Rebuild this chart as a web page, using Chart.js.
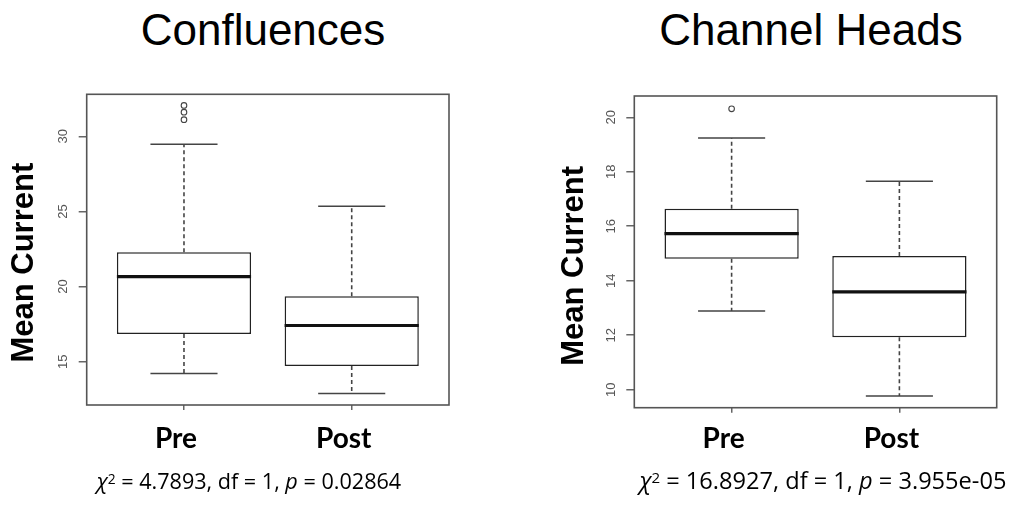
<!DOCTYPE html>
<html>
<head>
<meta charset="utf-8">
<script src="https://cdn.jsdelivr.net/npm/chart.js@4.4.1/dist/chart.umd.min.js"></script>
<style>
  html, body { margin: 0; padding: 0; background: #fff; }
  body { width: 1016px; height: 508px; overflow: hidden; position: relative; font-family: "Liberation Sans", Arial, sans-serif; }
  .title { position: absolute; font-size: 44px; line-height: 44px; color: #000; white-space: nowrap; transform: translateX(-50%); }
  .stat { position: absolute; font-family: "Open Sans", sans-serif; line-height: 22px; color: #000; white-space: nowrap; transform: translateX(-50%); }
  .stat sup { font-size: 0.64em; line-height: 0; vertical-align: 0.38em; }
  .wrap { position: absolute; top: 0; height: 470px; }
</style>
</head>
<body>
<div class="title" style="left:263px; top:8px;">Confluences</div>
<div class="title" style="left:811px; top:8px;">Channel Heads</div>

<div class="wrap" style="left:0; width:508px;"><canvas id="c1"></canvas></div>
<div class="wrap" style="left:548px; width:468px;"><canvas id="c2"></canvas></div>

<div class="stat" style="left:249px; top:470px; font-size:21.6px;"><i>χ</i><sup>2</sup> = 4.7893, df = 1, <i>p</i> = 0.02864</div>
<div class="stat" style="left:823px; top:469px; font-size:23.6px;"><i>χ</i><sup>2</sup> = 16.8927, df = 1, <i>p</i> = 3.955e-05</div>

<script>
// ---------- data ----------
const categories = ['Pre', 'Post'];

// Confluences
const confLowerWhisker = [14.22, 12.88];
const confQ1           = [16.84, 14.71];
const confMedian       = [20.66, 17.41];
const confQ3           = [22.28, 19.36];
const confUpperWhisker = [29.47, 25.35];
const confOutliers     = [[31.11, 31.61, 32.06], []];
const confYTicks       = [15, 20, 25, 30];
const confYRange       = [12.12, 32.80];

// Channel Heads
const headsLowerWhisker = [12.89, 9.77];
const headsQ1           = [14.81, 11.93];
const headsMedian       = [15.73, 13.59];
const headsQ3           = [16.64, 14.91];
const headsUpperWhisker = [19.24, 17.65];
const headsOutliers     = [[20.31], []];
const headsYTicks       = [10, 12, 14, 16, 18, 20];
const headsYRange       = [9.34, 20.78];

const yAxisTitle = 'Mean Current';

// ---------- helpers ----------
const BOX_HALF = 0.4, CAP_HALF = 0.2;
const xs = categories.map((_, i) => i + 1);

function hSegments(values, half) {
  const pts = [];
  xs.forEach((x, i) => {
    pts.push({ x: x - half, y: values[i] }, { x: x + half, y: values[i] }, { x: x + half, y: null });
  });
  return pts;
}
function whiskerSegments(q1, q3, lw, uw) {
  const pts = [];
  xs.forEach((x, i) => {
    pts.push({ x: x, y: q3[i] }, { x: x, y: uw[i] }, { x: x, y: null });
    pts.push({ x: x, y: q1[i] }, { x: x, y: lw[i] }, { x: x, y: null });
  });
  return pts;
}
function outlierPoints(outl) {
  const pts = [];
  xs.forEach((x, i) => outl[i].forEach(v => pts.push({ x: x, y: v })));
  return pts;
}

const lineBase = { type: 'line', pointRadius: 0, fill: false, spanGaps: false, tension: 0, order: 1 };

function makeDatasets(lw, q1, med, q3, uw, outl) {
  return [
    {
      type: 'bar',
      data: xs.map((x, i) => ({ x: x, y: [q1[i], q3[i]] })),
      backgroundColor: '#ffffff',
      borderColor: '#222222',
      borderWidth: 1.5,
      borderSkipped: false,
      barPercentage: 0.8,
      categoryPercentage: 1.0,
      order: 5
    },
    Object.assign({}, lineBase, { data: whiskerSegments(q1, q3, lw, uw), borderColor: '#444', borderWidth: 1.6, borderDash: [4, 3], order: 4 }),
    Object.assign({}, lineBase, { data: hSegments(lw, CAP_HALF), borderColor: '#444', borderWidth: 1.5 }),
    Object.assign({}, lineBase, { data: hSegments(uw, CAP_HALF), borderColor: '#444', borderWidth: 1.5 }),
    Object.assign({}, lineBase, { data: hSegments(med, BOX_HALF), borderColor: '#111', borderWidth: 3.2, order: 0 }),
    {
      type: 'line', showLine: false, data: outlierPoints(outl),
      pointRadius: 2.8, pointStyle: 'circle', pointBackgroundColor: 'rgba(0,0,0,0)',
      pointBorderColor: '#444', pointBorderWidth: 1.1, order: 0
    }
  ];
}

const framePlugin = {
  id: 'frame',
  afterDraw(chart, args, pluginOpts) {
    const { ctx, chartArea: a } = chart;
    ctx.save();
    ctx.strokeStyle = '#555';
    ctx.lineWidth = 1.6;
    ctx.strokeRect(a.left, a.top, a.right - a.left, a.bottom - a.top);
    // rotated y tick labels, positioned through the y scale
    const y = chart.scales.y;
    ctx.fillStyle = '#555';
    ctx.font = '13px "Liberation Sans", Arial, sans-serif';
    ctx.textAlign = 'center';
    ctx.textBaseline = 'middle';
    y.ticks.forEach(t => {
      ctx.save();
      ctx.translate(a.left - 23, y.getPixelForValue(t.value));
      ctx.rotate(-Math.PI / 2);
      ctx.fillText(String(t.value), 0, 0);
      ctx.restore();
    });
    // y axis title
    ctx.save();
    ctx.fillStyle = '#000';
    ctx.font = 'bold 31px "Liberation Sans", Arial, sans-serif';
    ctx.translate(pluginOpts.titleX, (y.top + y.bottom) / 2 + pluginOpts.titleDy);
    ctx.rotate(-Math.PI / 2);
    ctx.textAlign = 'center';
    ctx.textBaseline = 'middle';
    ctx.fillText(yAxisTitle, 0, 0);
    ctx.restore();
    ctx.restore();
  }
};

function makeChart(id, datasets, yTicks, yRange, opts) {
  return new Chart(document.getElementById(id), {
    type: 'bar',
    data: { datasets: datasets },
    plugins: [framePlugin],
    options: {
      responsive: true,
      maintainAspectRatio: false,
      animation: false,
      events: [],
      layout: { padding: { top: opts.top, right: opts.right, left: 0, bottom: 0 } },
      plugins: {
        legend: { display: false }, tooltip: { enabled: false }, title: { display: false },
        frame: { titleX: opts.titleX, titleDy: opts.titleDy }
      },
      scales: {
        x: {
          type: 'linear',
          min: 0.42, max: 2.58,
          offset: false,
          afterBuildTicks: s => { s.ticks = xs.map(v => ({ value: v })); },
          afterFit: s => { s.height = opts.xHeight; },
          grid: { display: true, offset: false, drawOnChartArea: false, drawTicks: true, tickLength: 5, color: '#666', lineWidth: 1.5 },
          border: { display: false },
          ticks: {
            autoSkip: false, maxRotation: 0, minRotation: 0,
            padding: opts.xPad, labelOffset: -8,
            color: '#000',
            font: { family: 'Lato, "Open Sans", sans-serif', weight: 'bold', size: 28 },
            callback: v => categories[Math.round(v) - 1]
          }
        },
        y: {
          type: 'linear',
          min: yRange[0], max: yRange[1],
          afterBuildTicks: s => { s.ticks = yTicks.map(v => ({ value: v })); },
          afterFit: s => { s.width = opts.yWidth; },
          grid: { display: true, drawOnChartArea: false, drawTicks: true, tickLength: 8, color: '#666', lineWidth: 1.5 },
          border: { display: false },
          ticks: { display: false },
          title: { display: false, text: yAxisTitle }
        }
      }
    }
  });
}

makeChart('c1',
  makeDatasets(confLowerWhisker, confQ1, confMedian, confQ3, confUpperWhisker, confOutliers),
  confYTicks, confYRange,
  { top: 94.3, right: 59, xHeight: 65, yWidth: 86.7, xPad: 12, titleX: 24, titleDy: 13 });

makeChart('c2',
  makeDatasets(headsLowerWhisker, headsQ1, headsMedian, headsQ3, headsUpperWhisker, headsOutliers),
  headsYTicks, headsYRange,
  { top: 96, right: 19.3, xHeight: 62.3, yWidth: 86.3, xPad: 9.5, titleX: 26, titleDy: 14 });
</script>
</body>
</html>
